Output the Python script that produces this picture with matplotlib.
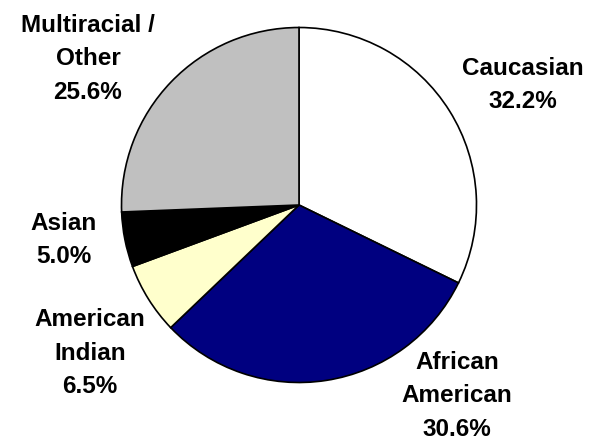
import matplotlib
matplotlib.use("Agg")
import matplotlib.pyplot as plt

categories = ["Caucasian", "African\nAmerican", "American\nIndian", "Asian", "Multiracial /\nOther"]
values = [32.2, 30.6, 6.5, 5.0, 25.6]
colors = ["#FFFFFF", "#000080", "#FFFFCC", "#000000", "#C0C0C0"]
label_pos = [(523, 85), (457, 396), (90, 353), (64, 240), (88, 59)]

W, H = 592, 444
fig = plt.figure(figsize=(W / 100, H / 100), dpi=100)
ax = fig.add_axes([0, 0, 1, 1])

cx, cy, r = 299, H - 205, 177.5
ax.pie(values, colors=colors, startangle=90, counterclock=False,
       center=(cx, cy), radius=r, frame=True,
       wedgeprops=dict(edgecolor="black", linewidth=1.2))
ax.set_xlim(0, W)
ax.set_ylim(0, H)
ax.set_aspect("equal")
ax.axis("off")

for cat, v, (x, y) in zip(categories, values, label_pos):
    ax.text(x, H - y, f"{cat}\n{v:.1f}%", ha="center", va="center",
            fontsize=17.5, fontweight="bold", family=["Liberation Sans", "DejaVu Sans"],
            linespacing=1.58)

fig.savefig("out.png", dpi=100)
